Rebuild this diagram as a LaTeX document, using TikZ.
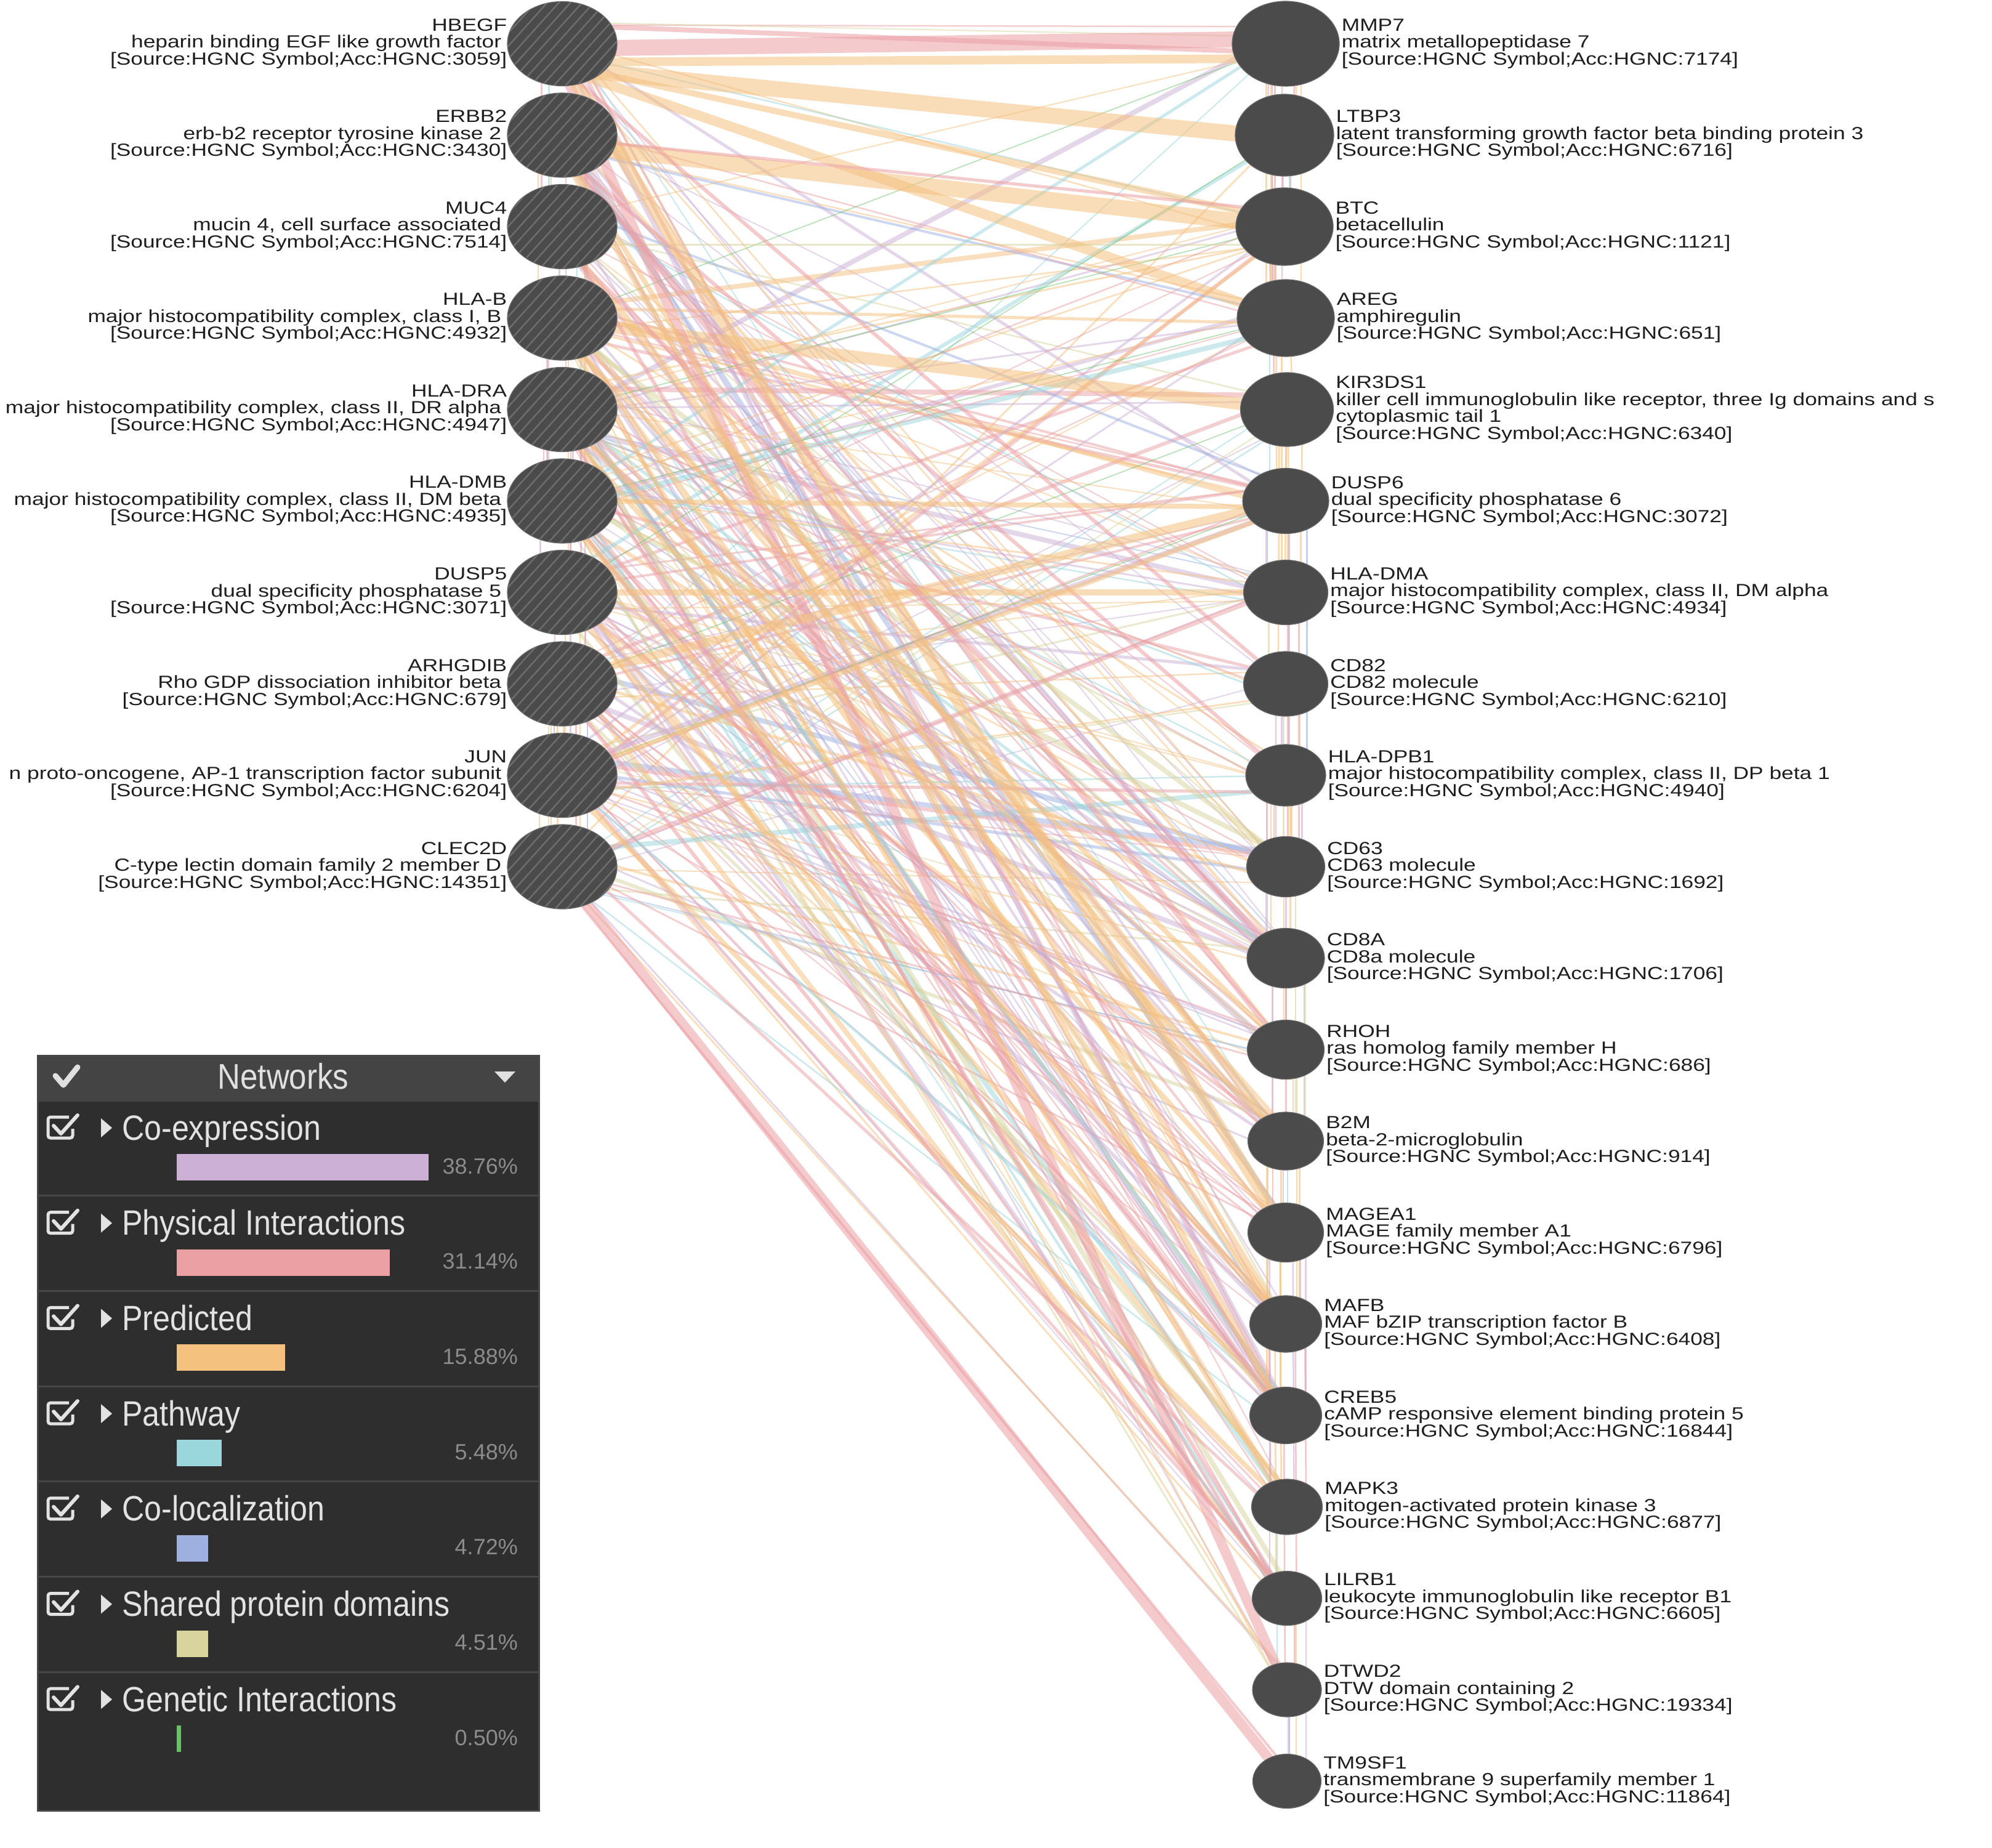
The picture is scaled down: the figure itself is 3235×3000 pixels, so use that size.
\documentclass[tikz,border=0pt]{standalone}
\usepackage{fontspec}
\setmainfont{Liberation Sans}[FakeStretch=1.24]
\newfontfamily\legfont{Liberation Sans}[FakeStretch=0.88]
\newfontfamily\pctfont{Liberation Sans}
\usetikzlibrary{shapes.geometric,patterns.meta,calc}
\pgfdeclarelayer{bg}\pgfdeclarelayer{edges}
\pgfsetlayers{bg,edges,main}
\definecolor{coexp}{HTML}{CDB0D6}
\definecolor{phys}{HTML}{EBA0A4}
\definecolor{pred}{HTML}{F5C17F}
\definecolor{path}{HTML}{9AD7DD}
\definecolor{coloc}{HTML}{9DB0E0}
\definecolor{shared}{HTML}{D9D49D}
\definecolor{genet}{HTML}{66C266}
\definecolor{nodegray}{HTML}{4B4B4B}
\definecolor{nodeedge}{HTML}{6A6A6A}
\definecolor{hatchgray}{HTML}{6E6E6E}
\definecolor{txt}{HTML}{1E1E1E}
\definecolor{legbg}{HTML}{2E2E2E}
\definecolor{leghead}{HTML}{444444}
\definecolor{legline}{HTML}{474747}
\definecolor{legtext}{HTML}{E2E2E2}
\definecolor{pcttext}{HTML}{8C8C8C}
\newcommand\srcref[1]{[Source:HGNC Symbol;Acc:HGNC:#1]}
\newcommand\tsp{\rule{9pt}{0pt}}
\newcommand\lk[6]{\draw[draw=#5,line width=#6pt,draw opacity=0.55] ($(#1)+(0,#2)$) -- ($(#3)+(0,#4)$);}
\pgfmathdeclarerandomlist{llist}{{L1}{L2}{L3}{L4}{L4}{L5}{L5}{L5}{L6}{L6}{L6}{L7}{L7}{L8}{L8}{L9}{L9}{L10}}
\pgfmathdeclarerandomlist{rlist}{{R1}{R2}{R3}{R3}{R4}{R4}{R5}{R6}{R6}{R7}{R7}{R7}{R8}{R8}{R8}{R9}{R9}{R9}{R10}{R10}{R10}{R11}{R11}{R11}{R12}{R12}{R12}{R13}{R13}{R13}{R14}{R14}{R15}{R15}{R15}{R16}{R16}{R16}{R17}{R17}{R18}{R18}{R19}}
\pgfmathdeclarerandomlist{clist}{{coexp}{coexp}{coexp}{coexp}{coexp}{phys}{phys}{phys}{phys}{pred}{pred}{pred}{path}{coloc}{shared}}
\pgfmathdeclarerandomlist{wlist}{{2}{2}{2}{2.5}{2.5}{3}{3}{4}{5}{6}{8}}
\tikzset{
  lgene/.style={ellipse, minimum width=178pt, minimum height=137pt, inner sep=0pt,
    fill=nodegray, draw=nodeedge, line width=1.2pt,
    postaction={pattern={Lines[angle=48,distance=14pt,line width=2.4pt]}, pattern color=hatchgray}},
  rgene/.style 2 args={ellipse, minimum width=#1pt, minimum height=#2pt, inner sep=0pt,
    fill=nodegray, draw=nodeedge, line width=1.2pt},
  ltext/.style={anchor=east, align=right, inner sep=0pt, text=txt, font=\fontsize{28.5}{27.5}\selectfont},
  rtext/.style={anchor=west, align=left, inner sep=0pt, text=txt, font=\fontsize{28.5}{27.5}\selectfont},
  leglabel/.style={anchor=base west, inner sep=0pt, text=legtext, font=\legfont\fontsize{57}{57}\selectfont},
  legpct/.style={anchor=base east, inner sep=0pt, text=pcttext, font=\pctfont\fontsize{36}{36}\selectfont},
  leghdr/.style={anchor=base, inner sep=0pt, text=white!88!black, font=\legfont\fontsize{58}{58}\selectfont}
}
\begin{document}
\begin{tikzpicture}[x=1pt,y=-1pt]
\useasboundingbox (0,0) rectangle (3235,3000);
\begin{pgfonlayer}{bg}
\fill[white] (0,0) rectangle (3235,3000);
\end{pgfonlayer}

% ---------- left genes ----------
\node[lgene] (L1) at (913,71) {};
\node[lgene] (L2) at (913,219.5) {};
\node[lgene] (L3) at (913,368) {};
\node[lgene] (L4) at (913,516.5) {};
\node[lgene] (L5) at (913,665) {};
\node[lgene] (L6) at (913,813.5) {};
\node[lgene] (L7) at (913,962) {};
\node[lgene] (L8) at (913,1110.5) {};
\node[lgene] (L9) at (913,1259) {};
\node[lgene] (L10) at (913,1407.5) {};

\node[ltext] (L1t) at (L1.west) {HBEGF\\heparin binding EGF like growth factor\tsp\\\srcref{3059}};
\node[ltext] (L2t) at (L2.west) {ERBB2\\erb-b2 receptor tyrosine kinase 2\tsp\\\srcref{3430}};
\node[ltext] (L3t) at (L3.west) {MUC4\\mucin 4, cell surface associated\tsp\\\srcref{7514}};
\node[ltext] (L4t) at (L4.west) {HLA-B\\major histocompatibility complex, class I, B\tsp\\\srcref{4932}};
\node[ltext] (L5t) at (L5.west) {HLA-DRA\\major histocompatibility complex, class II, DR alpha\tsp\\\srcref{4947}};
\node[ltext] (L6t) at (L6.west) {HLA-DMB\\major histocompatibility complex, class II, DM beta\tsp\\\srcref{4935}};
\node[ltext] (L7t) at (L7.west) {DUSP5\\dual specificity phosphatase 5\tsp\\\srcref{3071}};
\node[ltext] (L8t) at (L8.west) {ARHGDIB\\Rho GDP dissociation inhibitor beta\tsp\\\srcref{679}};
\node[ltext] (L9t) at (L9.west) {JUN\\n proto-oncogene, AP-1 transcription factor subunit\tsp\\\srcref{6204}};
\node[ltext] (L10t) at (L10.west) {CLEC2D\\C-type lectin domain family 2 member D\tsp\\\srcref{14351}};

% ---------- right genes ----------
\node[rgene={174}{138}] (R1) at (2088,71) {};
\node[rgene={160}{133}] (R2) at (2086,219.5) {};
\node[rgene={158}{126}] (R3) at (2086,368) {};
\node[rgene={158}{125}] (R4) at (2088,516.5) {};
\node[rgene={151}{120}] (R5) at (2090,665) {};
\node[rgene={140}{106}] (R6) at (2088,813.5) {};
\node[rgene={137}{105}] (R7) at (2088,962) {};
\node[rgene={137}{105}] (R8) at (2088,1110.5) {};
\node[rgene={130}{100}] (R9) at (2088,1259) {};
\node[rgene={127}{98}] (R10) at (2088,1407.5) {};
\node[rgene={126}{97}] (R11) at (2088,1556) {};
\node[rgene={125}{96}] (R12) at (2088,1704.5) {};
\node[rgene={123}{94}] (R13) at (2088,1853) {};
\node[rgene={123}{96}] (R14) at (2088,2001.5) {};
\node[rgene={117}{92}] (R15) at (2088,2150) {};
\node[rgene={117}{92}] (R16) at (2088,2298.5) {};
\node[rgene={115}{90}] (R17) at (2090,2447) {};
\node[rgene={113}{88}] (R18) at (2090,2595.5) {};
\node[rgene={112}{88}] (R19) at (2090,2744) {};
\node[rgene={111}{88}] (R20) at (2090,2892.5) {};

\node[rtext] (R1t) at ([xshift=3pt]R1.east) {MMP7\\matrix metallopeptidase 7\\\srcref{7174}};
\node[rtext] (R2t) at ([xshift=3pt]R2.east) {LTBP3\\latent transforming growth factor beta binding protein 3\\\srcref{6716}};
\node[rtext] (R3t) at ([xshift=3pt]R3.east) {BTC\\betacellulin\\\srcref{1121}};
\node[rtext] (R4t) at ([xshift=3pt]R4.east) {AREG\\amphiregulin\\\srcref{651}};
\node[rtext] (R5t) at ([xshift=3pt]R5.east) {KIR3DS1\\killer cell immunoglobulin like receptor, three Ig domains and s\\cytoplasmic tail 1\\\srcref{6340}};
\node[rtext] (R6t) at ([xshift=3pt]R6.east) {DUSP6\\dual specificity phosphatase 6\\\srcref{3072}};
\node[rtext] (R7t) at ([xshift=3pt]R7.east) {HLA-DMA\\major histocompatibility complex, class II, DM alpha\\\srcref{4934}};
\node[rtext] (R8t) at ([xshift=3pt]R8.east) {CD82\\CD82 molecule\\\srcref{6210}};
\node[rtext] (R9t) at ([xshift=3pt]R9.east) {HLA-DPB1\\major histocompatibility complex, class II, DP beta 1\\\srcref{4940}};
\node[rtext] (R10t) at ([xshift=3pt]R10.east) {CD63\\CD63 molecule\\\srcref{1692}};
\node[rtext] (R11t) at ([xshift=3pt]R11.east) {CD8A\\CD8a molecule\\\srcref{1706}};
\node[rtext] (R12t) at ([xshift=3pt]R12.east) {RHOH\\ras homolog family member H\\\srcref{686}};
\node[rtext] (R13t) at ([xshift=3pt]R13.east) {B2M\\beta-2-microglobulin\\\srcref{914}};
\node[rtext] (R14t) at ([xshift=3pt]R14.east) {MAGEA1\\MAGE family member A1\\\srcref{6796}};
\node[rtext] (R15t) at ([xshift=3pt]R15.east) {MAFB\\MAF bZIP transcription factor B\\\srcref{6408}};
\node[rtext] (R16t) at ([xshift=3pt]R16.east) {CREB5\\cAMP responsive element binding protein 5\\\srcref{16844}};
\node[rtext] (R17t) at ([xshift=3pt]R17.east) {MAPK3\\mitogen-activated protein kinase 3\\\srcref{6877}};
\node[rtext] (R18t) at ([xshift=3pt]R18.east) {LILRB1\\leukocyte immunoglobulin like receptor B1\\\srcref{6605}};
\node[rtext] (R19t) at ([xshift=3pt]R19.east) {DTWD2\\DTW domain containing 2\\\srcref{19334}};
\node[rtext] (R20t) at ([xshift=3pt]R20.east) {TM9SF1\\transmembrane 9 superfamily member 1\\\srcref{11864}};

% ---------- edges ----------
\begin{pgfonlayer}{edges}
\pgfmathsetseed{4242}
\foreach \k in {1,...,250}{
  \pgfmathrandomitem{\ea}{llist}
  \pgfmathrandomitem{\eb}{rlist}
  \pgfmathrandomitem{\ec}{clist}
  \pgfmathrandomitem{\ew}{wlist}
  \pgfmathsetmacro{\oa}{rand*35}
  \pgfmathsetmacro{\ob}{rand*28}
  \draw[draw=\ec, line width=\ew pt, draw opacity=0.5] ($(\ea)+(0,\oa)$) -- ($(\eb)+(0,\ob)$);
}
\foreach \k in {1,...,34}{
  \pgfmathrandominteger{\ia}{1}{9}
  \pgfmathtruncatemacro{\ib}{min(\ia+random(1,3),10)}
  \pgfmathsetmacro{\dx}{rand*42}
  \pgfmathrandomitem{\ec}{clist}
  \draw[draw=\ec, line width=2.5pt, draw opacity=0.6] ($(L\ia)+(\dx,0)$) -- ($(L\ib)+(\dx,0)$);
}
\foreach \k in {1,...,80}{
  \pgfmathrandominteger{\ia}{1}{19}
  \pgfmathtruncatemacro{\ib}{min(\ia+random(1,3),20)}
  \pgfmathsetmacro{\dx}{rand*34+2}
  \pgfmathrandomitem{\ec}{clist}
  \draw[draw=\ec, line width=2.5pt, draw opacity=0.6] ($(R\ia)+(\dx,0)$) -- ($(R\ib)+(\dx,0)$);
}
% a few thin genetic-interaction lines
\foreach \a/\b in {R3/L5, R4/L6, R2/L7, R5/L8, R1/L4, R6/L9}{
  \draw[draw=genet, line width=1.6pt, draw opacity=0.5] (\a) -- (\b);
}
% prominent edges
\lk{L1}{8}{R1}{-8}{phys}{26}
\lk{L1}{-30}{R1}{15}{phys}{8}
\lk{L1}{30}{R1}{24}{pred}{14}
\lk{L1}{40}{R2}{5}{pred}{26}
\lk{L1}{35}{R3}{-10}{pred}{10}
\lk{L1}{40}{R4}{0}{pred}{16}
\lk{L2}{15}{R3}{0}{pred}{26}
\lk{L2}{5}{R3}{-25}{phys}{5}
\lk{L3}{29}{R3}{29}{shared}{3}
\lk{L4}{5}{R5}{0}{pred}{20}
\lk{L1}{40}{R19}{0}{phys}{16}
\lk{L1}{40}{R8}{0}{phys}{6}
\lk{L2}{30}{R9}{0}{phys}{6}
\lk{L1}{30}{R14}{0}{pred}{18}
\lk{L10}{10}{R20}{0}{phys}{16}
\lk{L10}{25}{R20}{-20}{phys}{4}
\lk{L8}{-10}{R6}{0}{pred}{14}
\lk{L7}{0}{R7}{0}{pred}{10}
\lk{L6}{0}{R6}{10}{pred}{8}
\lk{L9}{0}{R6}{15}{pred}{8}
\lk{L4}{10}{R15}{0}{pred}{10}
\lk{L2}{20}{R12}{0}{phys}{8}
\lk{L7}{10}{R16}{0}{pred}{8}
\lk{L9}{10}{R17}{0}{pred}{8}
\lk{L8}{10}{R18}{0}{phys}{6}
\lk{L6}{10}{R16}{0}{phys}{6}
\lk{L5}{10}{R13}{0}{pred}{10}
\lk{L3}{20}{R13}{0}{pred}{12}
\lk{L2}{20}{R15}{0}{pred}{8}
\lk{L3}{10}{R16}{0}{phys}{6}
\lk{L4}{20}{R17}{0}{pred}{8}
\lk{L5}{20}{R18}{0}{phys}{6}
\lk{L6}{20}{R15}{0}{pred}{10}
\lk{L5}{30}{R14}{0}{pred}{8}
\lk{L2}{30}{R16}{0}{pred}{10}
\lk{L3}{30}{R11}{0}{phys}{8}
\lk{L4}{30}{R12}{0}{pred}{8}
\end{pgfonlayer}

% ---------- legend ----------
\fill[legbg] (61,1714) rectangle (875,2940);
\fill[leghead] (61,1714) rectangle (875,1789);
\draw[legline, line width=3pt] (61,1714) rectangle (875,2940);
\draw[white!88!black, line width=9pt, line cap=round, line join=round] (90,1747) -- (103,1762) -- (126,1733);
\node[leghdr] (nethead) at (460,1768) {Networks};
\fill[white!88!black] (803,1740) -- (837,1740) -- (820,1758) -- cycle;
\foreach \i/\lab/\pct/\be/\col in {0/Co-expression/38.76/696/coexp, 1/Physical Interactions/31.14/633/phys, 2/Predicted/15.88/463/pred, 3/Pathway/5.48/360/path, 4/Co-localization/4.72/338/coloc, 5/Shared protein domains/4.51/338/shared, 6/Genetic Interactions/0.50/294/genet}{
  \pgfmathsetmacro{\rt}{1787+154.7*\i}
  \ifnum\i>0 \draw[legline, line width=3pt] (61,\rt) -- (875,\rt); \fi
  \draw[legtext, line width=5pt, rounded corners=4pt] (112,\rt+27) -- (78,\rt+27) -- (78,\rt+61) -- (118,\rt+61) -- (118,\rt+46);
  \draw[legtext, line width=6pt, line cap=round, line join=round] (87,\rt+41) -- (99,\rt+54) -- (126,\rt+24);
  \fill[legtext] (164,\rt+29) -- (182,\rt+44.5) -- (164,\rt+60) -- cycle;
  \node[leglabel] (lab\i) at (198,\rt+64) {\lab};
  \fill[\col] (287,\rt+87) rectangle (\be,\rt+130);
  \node[legpct] (pct\i) at (841,\rt+119) {\pct\%};
}
\end{tikzpicture}
\end{document}
